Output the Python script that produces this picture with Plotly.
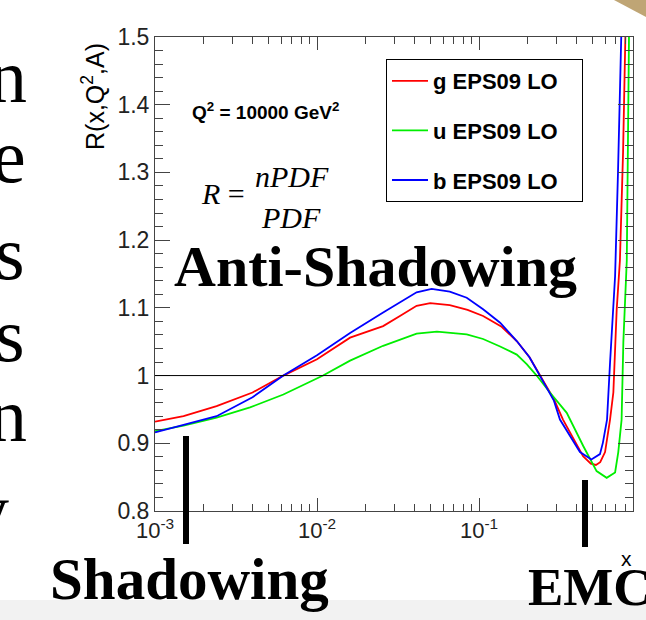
import plotly.graph_objects as go

# ---------------- data ----------------
x_g = [0.001, 0.0015, 0.0024, 0.0040, 0.0062, 0.0100, 0.0160, 0.0256, 0.0325, 0.0412,
       0.0500, 0.0660, 0.0850, 0.1060, 0.1380, 0.1710, 0.2050, 0.2380, 0.2900, 0.3300,
       0.4390, 0.4900, 0.5270, 0.5600, 0.6000, 0.6440, 0.6750, 0.7080, 0.7410, 0.7750,
       0.8050, 0.8400]
r_g = [0.932, 0.940, 0.955, 0.975, 1.000, 1.024, 1.056, 1.073, 1.088, 1.103,
       1.107, 1.104, 1.097, 1.088, 1.072, 1.051, 1.027, 1.000, 0.965, 0.935,
       0.881, 0.870, 0.868, 0.872, 0.887, 0.935, 0.975, 1.098, 1.170, 1.330,
       1.500, 1.750]

x_u = [0.001, 0.0015, 0.0024, 0.00386, 0.0062, 0.0109, 0.016, 0.0256, 0.0412, 0.055,
       0.084, 0.106, 0.135, 0.171, 0.197, 0.227, 0.274, 0.348, 0.440, 0.532,
       0.614, 0.692, 0.724, 0.759, 0.778, 0.817, 0.843, 0.870]
r_u = [0.918, 0.926, 0.938, 0.953, 0.972, 1.000, 1.022, 1.044, 1.062, 1.065,
       1.061, 1.054, 1.043, 1.031, 1.017, 1.000, 0.975, 0.945, 0.896, 0.859,
       0.849, 0.857, 0.887, 0.935, 1.049, 1.170, 1.500, 1.750]

x_b = [0.001, 0.0015, 0.0024, 0.0040, 0.0062, 0.0100, 0.0160, 0.0256, 0.0412, 0.0510,
       0.0660, 0.0840, 0.1060, 0.1350, 0.1710, 0.2050, 0.2380, 0.2900, 0.3160, 0.4200,
       0.4940, 0.5580, 0.5820, 0.6170, 0.6440, 0.6920, 0.7210, 0.7630, 0.8000]
r_b = [0.916, 0.927, 0.940, 0.968, 1.000, 1.030, 1.063, 1.093, 1.123, 1.128,
       1.124, 1.115, 1.098, 1.078, 1.051, 1.027, 1.000, 0.963, 0.935, 0.887,
       0.876, 0.884, 0.901, 0.935, 1.019, 1.147, 1.300, 1.500, 1.750]

series_names = ["g EPS09 LO", "u EPS09 LO", "b EPS09 LO"]
series_colors = ["#ff0000", "#00ee00", "#0000ff"]

x_tick_vals = [0.001, 0.01, 0.1]
x_tick_text = ["10<sup>-3</sup>", "10<sup>-2</sup>", "10<sup>-1</sup>"]
x_minor_vals = [m * d for d in (0.001, 0.01, 0.1) for m in range(2, 10) if m * d < 0.89]

# ---------------- geometry helpers (pixel -> paper) ----------------
W, H = 646, 620
L, R, T, B = 155, 13, 37, 109
PW, PH = W - L - R, H - T - B


def px(x):
    return (x - L) / PW


def py(y):
    return (H - B - y) / PH


fig = go.Figure()
for xs, ys, name, col in zip([x_g, x_u, x_b], [r_g, r_u, r_b], series_names, series_colors):
    fig.add_trace(go.Scatter(x=xs, y=ys, mode="lines",
                             name="<b>" + name + "</b>\u00a0\u00a0\u00a0",
                             legendgroup=name,
                             line=dict(color=col, width=1.8)))

fig.add_hline(y=1.0, line=dict(color="black", width=1))

axis_common = dict(showline=True, linecolor="#444", linewidth=1, mirror="allticks",
                   ticks="inside", tickcolor="#444", showgrid=False, zeroline=False)

fig.update_xaxes(type="log", range=[-3, -3 + PW / 162.0], tickmode="array",
                 tickvals=x_tick_vals, ticktext=x_tick_text, ticklen=13,
                 tickfont=dict(family="Liberation Sans", size=22, color="#222"),
                 minor=dict(ticks="inside", ticklen=7, tickcolor="#444",
                            tickmode="array", tickvals=x_minor_vals, showgrid=False),
                 **axis_common)
fig.update_yaxes(range=[0.8, 1.5], dtick=0.1, tick0=0.8, ticklen=15,
                 tickfont=dict(family="Liberation Sans", size=23, color="#222"),
                 minor=dict(ticks="inside", ticklen=8, dtick=0.02, tick0=0.8,
                            tickcolor="#444", showgrid=False),
                 **axis_common)

annotations = []


def text(x, y, s, size, family, xanchor="center", yanchor="middle", angle=0, color="black"):
    annotations.append(dict(x=px(x), y=py(y), xref="paper", yref="paper", text=s,
                            showarrow=False, xanchor=xanchor, yanchor=yanchor,
                            textangle=angle,
                            font=dict(size=size, family=family, color=color)))


# axis titles
text(93, 97, "R(x,Q<sup>2</sup>,A)", 25, "Liberation Sans", angle=-90)
text(626, 558, "x", 21, "Liberation Sans")

# Q^2 label and ratio formula
text(265, 111, "<b>Q<sup>2</sup> = 10000 GeV<sup>2</sup></b>", 19, "Liberation Sans")
text(223, 193, "<i>R</i> =", 30, "Liberation Serif")
text(292, 176, "<i>nPDF</i>", 30, "Liberation Serif")
text(291, 217, "<i>PDF</i>", 30, "Liberation Serif")

# slide annotations
text(375, 266, "<b>Anti-Shadowing</b>", 58, "Liberation Serif")
text(189, 579, "<b>Shadowing</b>", 59, "Liberation Serif")
text(526, 587, "<b>EMC</b>", 53, "Liberation Serif", xanchor="left")

# cut-off letters of the slide text on the left
for yy, ch, xr in [(76, "n", 29), (156, "e", 28), (253, "s", 27), (335, "s", 27),
                   (415, "n", 29), (510, "y", 11)]:
    text(xr, yy, ch, 76, "Liberation Serif", xanchor="right")

shapes = [
    # fraction bar
    dict(type="line", xref="paper", yref="paper", x0=px(253), x1=px(333), y0=py(196), y1=py(196),
         line=dict(color="black", width=1.5)),
    # marker bars for shadowing / EMC
    dict(type="rect", xref="paper", yref="paper", x0=px(183), x1=px(189), y0=py(544), y1=py(436),
         fillcolor="black", line=dict(width=0)),
    dict(type="rect", xref="paper", yref="paper", x0=px(582), x1=px(588), y0=py(547), y1=py(480),
         fillcolor="black", line=dict(width=0)),
    # light grey band at bottom of slide
    dict(type="rect", xref="paper", yref="paper", x0=px(0), x1=px(W), y0=py(H), y1=py(600),
         fillcolor="#f2f2f2", line=dict(width=0), layer="below"),
    # decorative corner of slide
    dict(type="path", xref="paper", yref="paper",
         path=f"M {px(614)},{py(0)} L {px(646)},{py(0)} L {px(646)},{py(17)} Z",
         fillcolor="#bfa575", line=dict(width=0)),
]

fig.update_layout(
    width=W, height=H,
    margin=dict(l=L, r=R, t=T, b=B, pad=0),
    paper_bgcolor="white", plot_bgcolor="white",
    showlegend=True,
    legend=dict(x=px(386), y=py(59), xanchor="left", yanchor="top",
                bordercolor="black", borderwidth=1, bgcolor="white",
                font=dict(family="Liberation Sans", size=22, color="black"),
                tracegroupgap=18, itemwidth=36),
    annotations=annotations,
    shapes=shapes,
)

fig.write_html("out.html", config={"displayModeBar": False},
               post_script="document.body.style.margin='0px';document.body.style.overflow='hidden';")
